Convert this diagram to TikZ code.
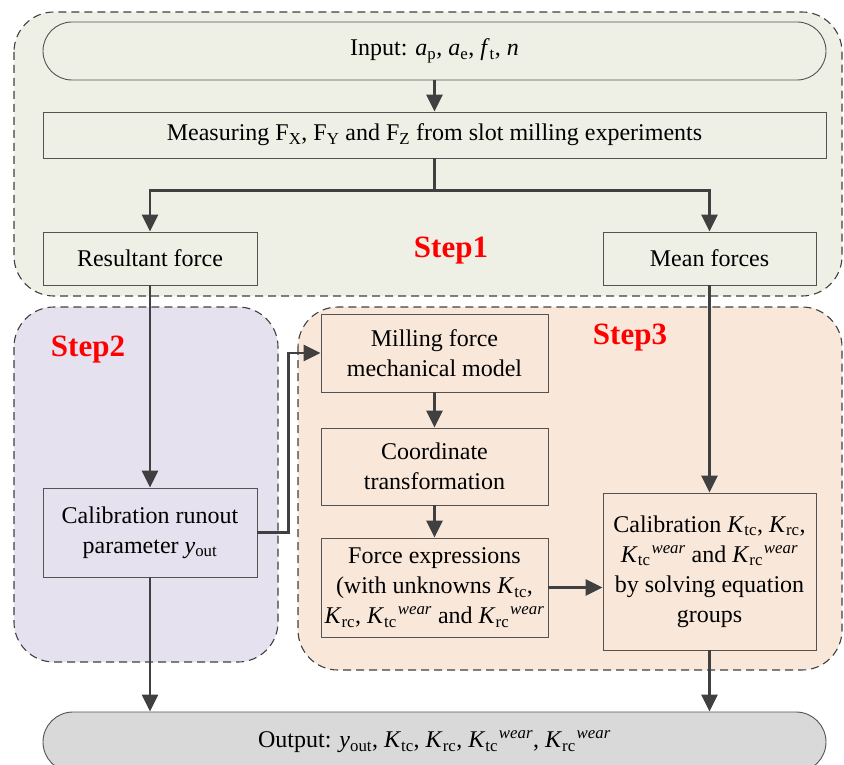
\documentclass[tikz,border=0pt]{standalone}
\usepackage{fontspec}
\setmainfont{Liberation Serif}
\usetikzlibrary{arrows.meta}

\definecolor{stepone}{HTML}{EEF0E6}
\definecolor{steptwo}{HTML}{E5E1EE}
\definecolor{stepthree}{HTML}{F9E8DA}
\definecolor{outgrey}{HTML}{D9D9D9}
\definecolor{linegrey}{HTML}{404040}

\newcommand{\Ktc}{\textit{K}\textsubscript{tc}}
\newcommand{\Krc}{\textit{K}\textsubscript{rc}}
\newcommand{\wear}{\textsuperscript{\kern1pt\textit{wear}}}

\tikzset{
  region/.style = {draw=linegrey, line width=1.1pt, dash pattern=on 8pt off 5pt, rounded corners=40pt},
  box/.style = {draw=linegrey!90, line width=0.9pt, inner sep=1pt, align=center,
                font=\fontsize{24}{30}\selectfont},
  arr/.style = {draw=linegrey, line width=2.8pt, -{Triangle[length=17pt,width=16pt]}},
  steplabel/.style = {text=red, font=\fontsize{31}{34}\selectfont\bfseries}
}

\begin{document}
\begin{tikzpicture}[x=1pt, y=-1pt]
  \useasboundingbox (0,0) rectangle (844,765);

  % regions
  \draw[region, fill=stepone] (14,12) rectangle (842,296);
  \draw[region, fill=steptwo] (14,307) rectangle (278,662);
  \draw[region, fill=stepthree] (298,307) rectangle (842,670);

  \node[steplabel] (s1) at (451,251) {Step1};
  \node[steplabel] (s2) at (88,350) {Step2};
  \node[steplabel] (s3) at (630,338) {Step3};

  % step 1
  \node[box, fill=stepone, rounded corners=29pt, minimum width=783pt, minimum height=58pt]
    (input) at (434.5,51) {Input: \textit{a}\textsubscript{p}, \textit{a}\textsubscript{e}, \textit{f}\textsubscript{t}, \textit{n}};
  \node[box, fill=stepone, minimum width=783pt, minimum height=46pt]
    (meas) at (434.5,135) {Measuring F\textsubscript{X}, F\textsubscript{Y} and F\textsubscript{Z} from slot milling experiments};
  \node[box, fill=stepone, minimum width=214pt, minimum height=53pt]
    (res) at (150,258.5) {Resultant force};
  \node[box, fill=stepone, minimum width=213pt, minimum height=53pt]
    (mean) at (709.5,258.5) {Mean forces};

  % step 2
  \node[box, fill=steptwo, minimum width=214pt, minimum height=89pt]
    (runout) at (150,532.5) {Calibration runout\\parameter \textit{y}\textsubscript{out}};

  % step 3
  \node[box, fill=stepthree, minimum width=227pt, minimum height=78pt]
    (mill) at (434.5,353) {Milling force\\mechanical model};
  \node[box, fill=stepthree, minimum width=227pt, minimum height=77pt]
    (coord) at (434.5,466.5) {Coordinate\\transformation};
  \node[box, fill=stepthree, minimum width=227pt, minimum height=99pt]
    (force) at (434.5,587.5) {Force expressions\\(with unknowns \Ktc,\\\Krc, \Ktc\wear{} and \Krc\wear};
  \node[box, fill=stepthree, minimum width=213pt, minimum height=157pt]
    (calib) at (709.5,571.5) {Calibration \Ktc, \Krc,\\\Ktc\wear{} and \Krc\wear\\by solving equation\\groups};

  % output
  \node[box, fill=outgrey, rounded corners=30pt, minimum width=783pt, minimum height=60pt]
    (output) at (434.5,742) {Output: \textit{y}\textsubscript{out}, \Ktc, \Krc, \Ktc\wear, \Krc\wear};

  % connectors
  \draw[arr] (input) -- (meas);
  \draw[draw=linegrey, line width=2.8pt] (meas.south) -- ++(0,32) coordinate (split);
  \draw[arr] (split) -| (res);
  \draw[arr] (split) -| (mean);
  \draw[arr] (res) -- (runout);
  \draw[arr] (mean) -- (calib);
  \draw[arr] (runout.east) -- ++(31,0) |- (mill.west);
  \draw[arr] (mill) -- (coord);
  \draw[arr] (coord) -- (force);
  \draw[arr] (force.east) -- (force.east -| calib.west);
  \draw[arr] (runout.south) -- (runout.south |- output.north);
  \draw[arr] (calib.south) -- (calib.south |- output.north);
\end{tikzpicture}
\end{document}
